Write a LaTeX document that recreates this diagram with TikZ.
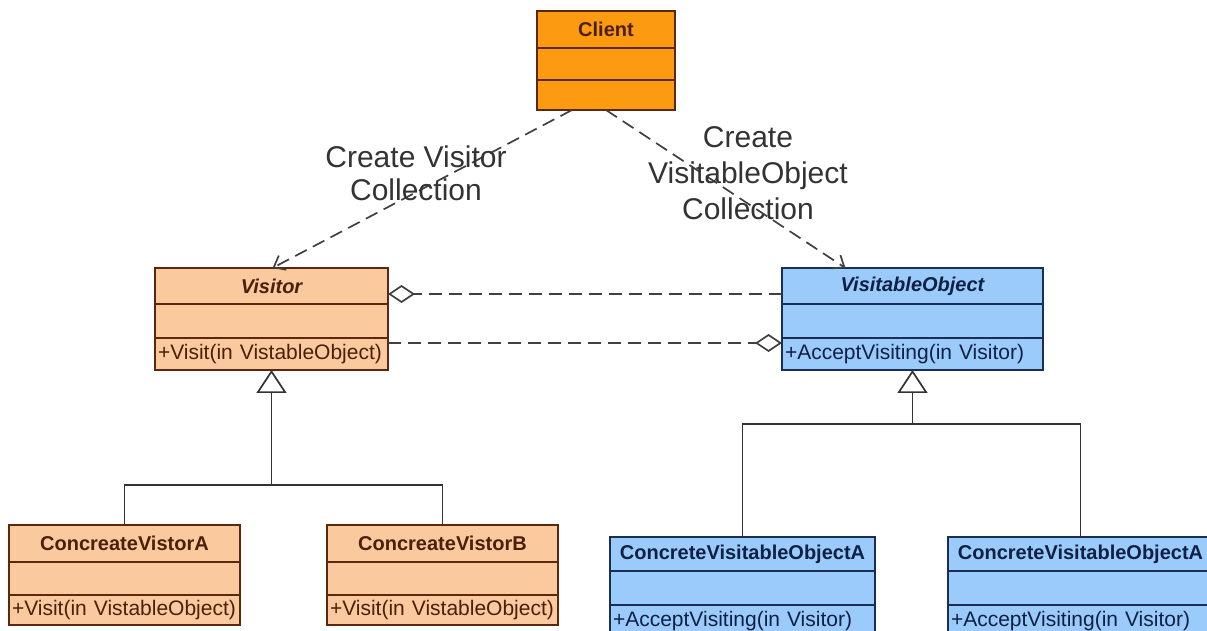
\documentclass[tikz,border=0pt]{standalone}
\usepackage{fontspec}
\setmainfont{Liberation Sans}
\usetikzlibrary{positioning, arrows.meta}

\definecolor{peach}{RGB}{250,201,158}
\definecolor{amber}{RGB}{252,155,18}
\definecolor{rust}{RGB}{90,40,12}
\definecolor{brownink}{RGB}{75,32,10}
\definecolor{sky}{RGB}{155,203,250}
\definecolor{navy}{RGB}{25,45,85}
\definecolor{navyink}{RGB}{15,32,68}

\begin{document}
\begin{tikzpicture}[
    x=0.5pt, y=-0.5pt,
    part/.style = { draw, line width=0.9pt, inner sep=0pt, outer sep=0pt,
                    anchor=north west, minimum width=#1 },
    warm/.style = { draw=rust, fill=peach, text=brownink },
    hot/.style = { draw=rust, fill=amber, text=brownink },
    cool/.style = { draw=navy, fill=sky, text=navyink },
    classname/.style = { font=\fontsize{10}{12}\selectfont\bfseries },
    oper/.style = { font=\fontsize{10.5}{12}\selectfont, align=left,
                    text width=#1-3pt, inner xsep=1.5pt },
    create/.style = { dashed, dash pattern=on 6.5pt off 3.5pt, line width=0.85pt,
                      black!75, -{Straight Barb[length=5pt, width=8pt]} },
    assoc/.style = { dashed, dash pattern=on 6.5pt off 3.5pt, line width=0.85pt,
                     black!75, -{Diamond[fill=white, length=13.5pt, width=9pt]} },
    inherit/.style = { line width=0.85pt, black!80,
                       -{Triangle[fill=white, length=11.5pt, width=15pt]} },
    tree/.style = { line width=0.85pt, black!80 },
    note/.style = { font=\fontsize{15}{#1}\selectfont, text=black!80, align=center },
    ]

    \useasboundingbox (0,0) rectangle (1207,631);
    \clip (0,0) rectangle (1207,631);

    % client
    \node[part=69pt, hot, classname, minimum height=18.5pt] (clienthead) at (537,11) {Client};
    \node[part=69pt, hot, minimum height=16pt, below=0pt of clienthead] (clientattr) {};
    \node[part=69pt, hot, minimum height=15pt, below=0pt of clientattr] (clientops) {};

    % abstract classes
    \node[part=116.5pt, warm, classname, minimum height=18pt] (visitorhead) at (155,268) {\itshape Visitor};
    \node[part=116.5pt, warm, minimum height=17pt, below=0pt of visitorhead] (visitorattr) {};
    \node[part=116.5pt, warm, oper=116.5pt, minimum height=16pt, below=0pt of visitorattr] (visitorops) {+Visit(in VistableObject)};

    \node[part=130.5pt, cool, classname, minimum height=18pt] (visitablehead) at (782,268) {\itshape VisitableObject};
    \node[part=130.5pt, cool, minimum height=17pt, below=0pt of visitablehead] (visitableattr) {};
    \node[part=130.5pt, cool, oper=130.5pt, minimum height=16pt, below=0pt of visitableattr] (visitableops) {+AcceptVisiting(in Visitor)};

    % concrete visitors
    \node[part=115.5pt, warm, classname, minimum height=18.5pt] (cvAhead) at (9,525) {ConcreateVistorA};
    \node[part=115.5pt, warm, minimum height=16.5pt, below=0pt of cvAhead] (cvAattr) {};
    \node[part=115.5pt, warm, oper=115.5pt, minimum height=15pt, below=0pt of cvAattr] (cvAops) {+Visit(in VistableObject)};

    \node[part=115.5pt, warm, classname, minimum height=18.5pt] (cvBhead) at (327,525) {ConcreateVistorB};
    \node[part=115.5pt, warm, minimum height=16.5pt, below=0pt of cvBhead] (cvBattr) {};
    \node[part=115.5pt, warm, oper=115.5pt, minimum height=15pt, below=0pt of cvBattr] (cvBops) {+Visit(in VistableObject)};

    % concrete visitable objects
    \node[part=132.5pt, cool, classname, minimum height=17pt] (coAhead) at (610,537) {ConcreteVisitableObjectA};
    \node[part=132.5pt, cool, minimum height=17pt, below=0pt of coAhead] (coAattr) {};
    \node[part=132.5pt, cool, oper=132.5pt, minimum height=16pt, below=0pt of coAattr] (coAops) {+AcceptVisiting(in Visitor)};

    \node[part=132.5pt, cool, classname, minimum height=17pt] (coBhead) at (948,537) {ConcreteVisitableObjectA};
    \node[part=132.5pt, cool, minimum height=17pt, below=0pt of coBhead] (coBattr) {};
    \node[part=132.5pt, cool, oper=132.5pt, minimum height=16pt, below=0pt of coBattr] (coBops) {+AcceptVisiting(in Visitor)};

    % create relations
    \draw[create] ([xshift=-17pt]clientops.south) -- ([xshift=0.5pt]visitorhead.north);
    \draw[create] (clientops.south) -- ([xshift=-33.5pt]visitablehead.north);
    \node[note=16.5pt] (createvisitor) at (416,173) {Create Visitor\\Collection};
    \node[note=18pt] (createobject) at (748,173) {Create\\VisitableObject\\Collection};

    % aggregations
    \draw[assoc] ([yshift=-4pt]visitablehead.west) -- ([yshift=-4pt]visitorhead.east);
    \draw[assoc] ([yshift=5.5pt]visitorops.east) -- ([yshift=5.5pt]visitableops.west);

    % generalisations
    \coordinate (visrow) at (0,485);
    \coordinate (objrow) at (0,424);
    \coordinate (visjoin) at (visitorops.south |- visrow);
    \coordinate (objjoin) at (visitableops.south |- objrow);
    \draw[inherit] (visjoin) -- (visitorops.south);
    \draw[tree] (cvAhead.north) |- (visjoin) -| (cvBhead.north);
    \draw[inherit] (objjoin) -- (visitableops.south);
    \draw[tree] (coAhead.north) |- (objjoin) -| (coBhead.north);

\end{tikzpicture}
\end{document}
